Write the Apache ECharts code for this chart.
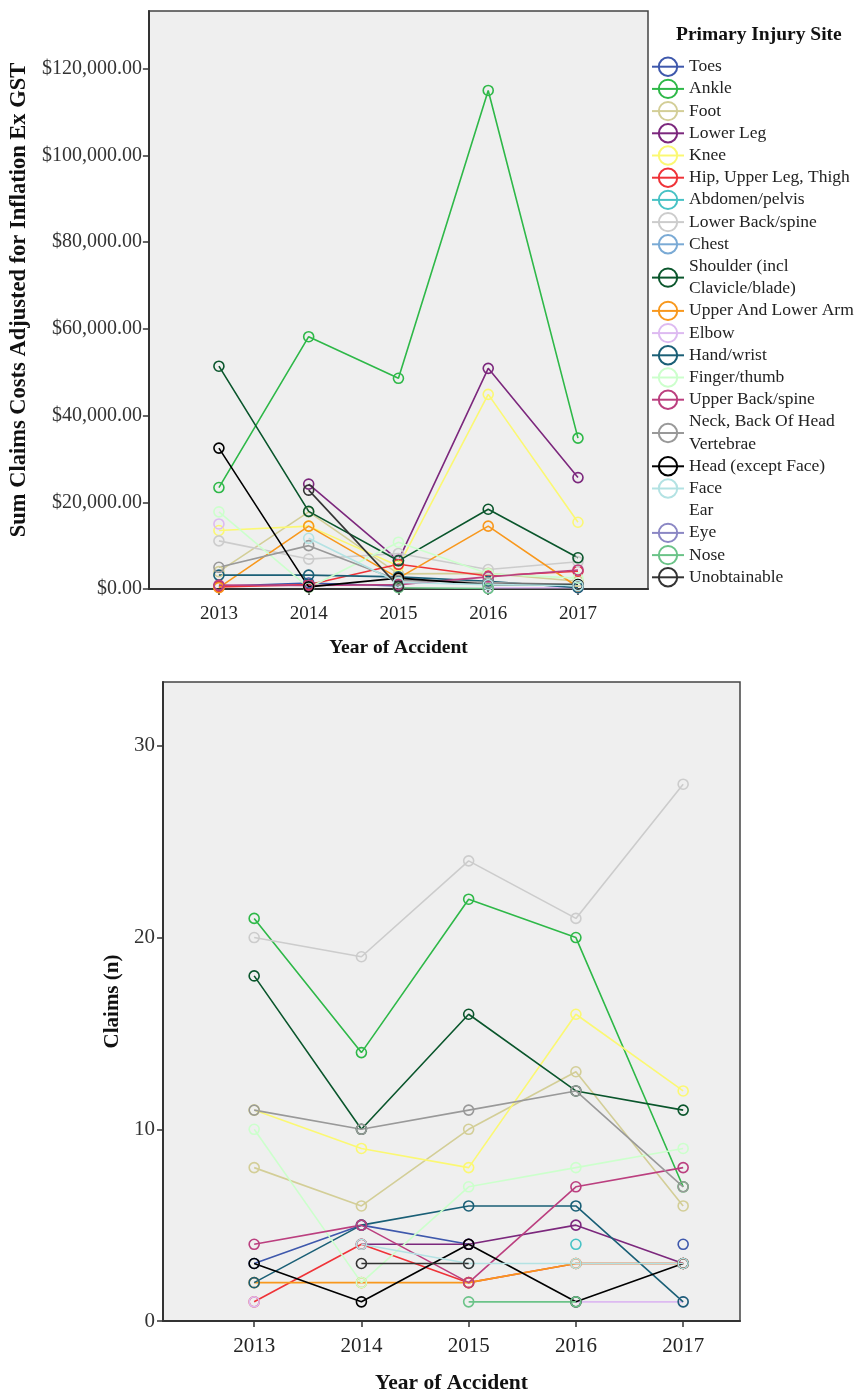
<!DOCTYPE html>
<html><head><meta charset="utf-8">
<script src="https://cdn.jsdelivr.net/npm/echarts@6/dist/echarts.min.js"></script>
<style>html,body{margin:0;padding:0;background:#fff}#c{width:859px;height:1396px}</style>
</head><body><div id="c"></div>
<script>
// ---------- data ----------
const years = [2013, 2014, 2015, 2016, 2017];
const costTicks = [0, 20000, 40000, 60000, 80000, 100000, 120000];
const claimTicks = [0, 10, 20, 30];

const siteNames = ['Toes', 'Ankle', 'Foot', 'Lower Leg', 'Knee', 'Hip, Upper Leg, Thigh',
  'Abdomen/pelvis', 'Lower Back/spine', 'Chest', 'Shoulder (incl Clavicle/blade)',
  'Upper And Lower Arm', 'Elbow', 'Hand/wrist', 'Finger/thumb', 'Upper Back/spine',
  'Neck, Back Of Head Vertebrae', 'Head (except Face)', 'Face', 'Ear', 'Eye', 'Nose', 'Unobtainable'];
const siteColors = ['#3e58ac', '#2eb848', '#d3ce97', '#7c287d', '#fbf873', '#ef3338',
  '#48c2c5', '#cccccc', '#7aaad5', '#0a562c', '#f8981d', '#ddbaf1', '#1a5f76', '#ccffcc',
  '#bb3f7f', '#999999', '#000000', '#b3e2e3', '#ffffff', '#8b87c4', '#6bc388', '#333333'];

// Sum claims costs (top chart), per site, 2013..2017
const costToes      = [600, 1400, 700, null, 500];
const costAnkle     = [23400, 58200, 48600, 115000, 34800];
const costFoot      = [4000, 17800, 3500, 3600, 1800];
const costLowerLeg  = [null, 24200, 6600, 50900, 25700];
const costKnee      = [13500, 14500, 5300, 44900, 15400];
const costHip       = [500, 1000, 5700, 3000, 4100];
const costAbdomen   = [null, null, null, 1500, null];
const costLowerBack = [11100, 6900, 8200, 4500, 6300];
const costChest     = [null, null, null, null, null];
const costShoulder  = [51400, 17900, 6500, 18400, 7200];
const costArm       = [300, 14500, 2500, 14500, 400];
const costElbow     = [15000, null, null, 300, 300];
const costHand      = [3200, 3200, 2800, 1800, 300];
const costFinger    = [17800, 300, 10800, 3500, 2500];
const costUpperBack = [900, 800, 1000, 2800, 4400];
const costNeck      = [5000, 10000, 2000, 1500, 1000];
const costHead      = [32500, 500, 2500, 1000, 1000];
const costFace      = [null, 11700, 1500, 1000, 800];
const costEar       = [null, null, null, null, null];
const costEye       = [null, null, null, null, null];
const costNose      = [null, null, 300, 100, null];
const costUnobt     = [null, 22800, 600, null, null];

// Claims count (bottom chart), per site, 2013..2017
const claimToes      = [3, 5, 4, null, 4];
const claimAnkle     = [21, 14, 22, 20, 7];
const claimFoot      = [8, 6, 10, 13, 6];
const claimLowerLeg  = [null, 4, 4, 5, 3];
const claimKnee      = [11, 9, 8, 16, 12];
const claimHip       = [1, 4, 2, 3, 3];
const claimAbdomen   = [null, null, null, 4, null];
const claimLowerBack = [20, 19, 24, 21, 28];
const claimChest     = [null, null, null, null, null];
const claimShoulder  = [18, 10, 16, 12, 11];
const claimArm       = [2, 2, 2, 3, 3];
const claimElbow     = [1, null, null, 1, 1];
const claimHand      = [2, 5, 6, 6, 1];
const claimFinger    = [10, 2, 7, 8, 9];
const claimUpperBack = [4, 5, 2, 7, 8];
const claimNeck      = [11, 10, 11, 12, 7];
const claimHead      = [3, 1, 4, 1, 3];
const claimFace      = [null, 4, 3, 3, 3];
const claimEar       = [null, null, null, null, null];
const claimEye       = [null, null, null, null, null];
const claimNose      = [null, null, 1, 1, null];
const claimUnobt     = [null, 3, 3, null, null];

const costValues = [costToes, costAnkle, costFoot, costLowerLeg, costKnee, costHip, costAbdomen,
  costLowerBack, costChest, costShoulder, costArm, costElbow, costHand, costFinger, costUpperBack,
  costNeck, costHead, costFace, costEar, costEye, costNose, costUnobt];
const claimValues = [claimToes, claimAnkle, claimFoot, claimLowerLeg, claimKnee, claimHip, claimAbdomen,
  claimLowerBack, claimChest, claimShoulder, claimArm, claimElbow, claimHand, claimFinger, claimUpperBack,
  claimNeck, claimHead, claimFace, claimEar, claimEye, claimNose, claimUnobt];

// ---------- chart ----------
const FONT = 'Liberation Serif';
const chart = echarts.init(document.getElementById('c'), null, {renderer: 'canvas'});

function money(v) {
  const s = Math.round(v).toString().replace(/\B(?=(\d{3})+(?!\d))/g, ',');
  return '$' + s + '.00';
}

function makeSeries(values, axisIdx) {
  return siteNames.map((name, i) => ({
    type: 'line',
    name: name,
    xAxisIndex: axisIdx,
    yAxisIndex: axisIdx,
    data: years.map((y, j) => [y, values[i][j] == null ? '-' : values[i][j]]),
    symbol: 'circle',
    symbolSize: 10,
    showAllSymbol: true,
    connectNulls: false,
    itemStyle: {color: 'transparent', borderColor: siteColors[i], borderWidth: 1.6},
    lineStyle: {color: siteColors[i], width: 1.6},
    emphasis: {disabled: true},
    silent: true,
    animation: false
  }));
}

const axisCommon = {
  axisLine: {show: true, onZero: false, lineStyle: {color: '#333', width: 2}},
  axisTick: {show: true, inside: false, length: 6, lineStyle: {color: '#333', width: 1.5}},
  splitLine: {show: false}
};

const option = {
  animation: false,
  backgroundColor: '#ffffff',
  title: {
    text: 'Primary Injury Site',
    left: 671, top: 20,
    textStyle: {fontFamily: FONT, fontWeight: 'bold', fontSize: 19.5, color: '#111'}
  },
  legend: {
    data: siteNames,
    orient: 'vertical',
    left: 646, top: 50.6,
    itemGap: 0,
    itemWidth: 32,
    itemHeight: 23,
    selectedMode: false,
    formatter: function (n) {
      if (n === 'Shoulder (incl Clavicle/blade)') return 'Shoulder (incl\nClavicle/blade)';
      if (n === 'Neck, Back Of Head Vertebrae') return 'Neck, Back Of Head\nVertebrae';
      return n;
    },
    textStyle: {fontFamily: FONT, fontSize: 17.5, lineHeight: 22.2, color: '#222'}
  },
  grid: [
    {left: 138, top: 11, width: 510, height: 578, show: true, backgroundColor: '#efefef',
     borderColor: '#444', borderWidth: 1.5, containLabel: false},
    {left: 163, top: 682, width: 577, height: 639, show: true, backgroundColor: '#efefef',
     borderColor: '#444', borderWidth: 1.5, containLabel: false}
  ],
  xAxis: [
    Object.assign({}, axisCommon, {
      type: 'value', gridIndex: 0, min: 2012.22, max: 2017.78,
      name: 'Year of Accident', nameLocation: 'middle', nameGap: 49,
      nameTextStyle: {fontFamily: FONT, fontWeight: 'bold', fontSize: 19.5, color: '#111'},
      axisTick: Object.assign({}, axisCommon.axisTick, {customValues: years}),
      axisLabel: {customValues: years, margin: 16, formatter: v => String(v),
        fontFamily: FONT, fontSize: 19, color: '#222'}
    }),
    Object.assign({}, axisCommon, {
      type: 'value', gridIndex: 1, min: 2012.15, max: 2017.53,
      name: 'Year of Accident', nameLocation: 'middle', nameGap: 51,
      nameTextStyle: {fontFamily: FONT, fontWeight: 'bold', fontSize: 21.5, color: '#111'},
      axisTick: Object.assign({}, axisCommon.axisTick, {customValues: years}),
      axisLabel: {customValues: years, margin: 15, formatter: v => String(v),
        fontFamily: FONT, fontSize: 21, color: '#222'}
    })
  ],
  yAxis: [
    Object.assign({}, axisCommon, {
      type: 'value', gridIndex: 0, min: 0, max: 133333,
      name: 'Sum Claims Costs Adjusted for Inflation Ex GST', nameLocation: 'middle', nameGap: 106,
      nameTextStyle: {fontFamily: FONT, fontWeight: 'bold', fontSize: 22.5, color: '#111'},
      axisTick: Object.assign({}, axisCommon.axisTick, {customValues: costTicks}),
      axisLabel: {customValues: costTicks, margin: 7, formatter: money,
        fontFamily: FONT, fontSize: 20, color: '#333'}
    }),
    Object.assign({}, axisCommon, {
      type: 'value', gridIndex: 1, min: 0, max: 33.33,
      name: 'Claims (n)', nameLocation: 'middle', nameGap: 30,
      nameTextStyle: {fontFamily: FONT, fontWeight: 'bold', fontSize: 21, color: '#111'},
      axisTick: Object.assign({}, axisCommon.axisTick, {customValues: claimTicks}),
      axisLabel: {customValues: claimTicks, margin: 8, formatter: v => String(v),
        fontFamily: FONT, fontSize: 21, color: '#333'}
    })
  ],
  series: makeSeries(costValues, 0).concat(makeSeries(claimValues, 1))
};
chart.setOption(option);
</script>
</body></html>
